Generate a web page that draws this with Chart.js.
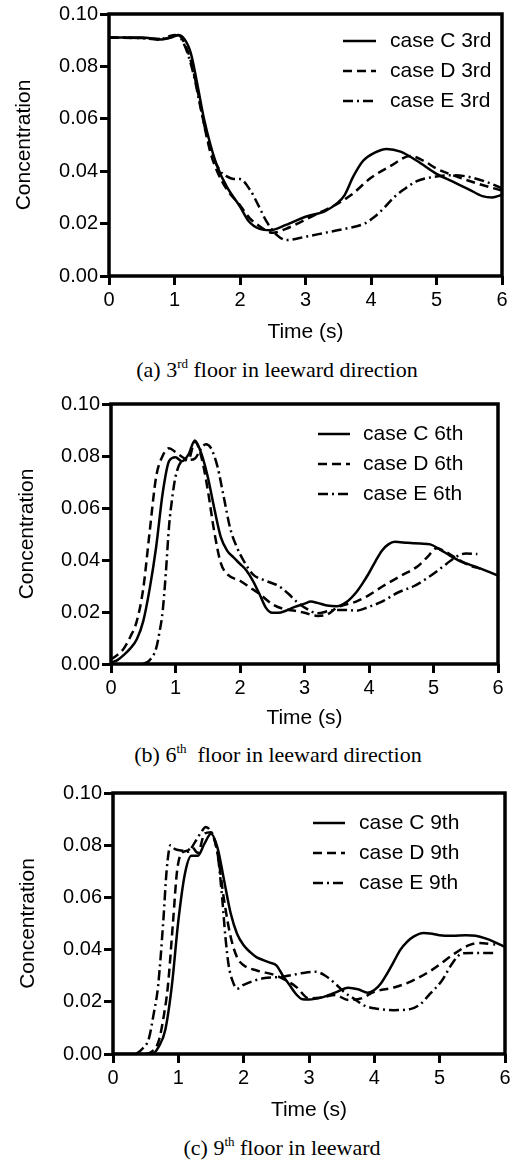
<!DOCTYPE html>
<html>
<head>
<meta charset="utf-8">
<script src="https://cdn.jsdelivr.net/npm/chart.js@4.4.1/dist/chart.umd.min.js"></script>
<style>
  body { margin: 0; background: #fff; }
  #page { position: relative; width: 515px; height: 1163px; overflow: hidden; }
  .box { position: absolute; left: 0; width: 515px; }
  .cap { position: absolute; font-family: "Liberation Serif", serif; font-size: 22px; line-height: 26px;
         white-space: nowrap; transform: translateX(-50%); color: #000; }
  .cap span { font-size: 13px; position: relative; top: -9px; }
</style>
</head>
<body>
<div id="page">
  <div class="box" style="top:0;height:346px"><canvas id="chart3rd"></canvas></div>
  <div class="cap" style="left:277px;top:357px">(a) 3<span>rd</span> floor in leeward direction</div>
  <div class="box" style="top:390px;height:342px"><canvas id="chart6th"></canvas></div>
  <div class="cap" style="left:278px;top:742px">(b) 6<span>th</span>&nbsp; floor in leeward direction</div>
  <div class="box" style="top:779px;height:345px"><canvas id="chart9th"></canvas></div>
  <div class="cap" style="left:282px;top:1135px">(c) 9<span>th</span> floor in leeward</div>
</div>
<script>
// Concentration vs time, cases C / D / E, 3rd / 6th / 9th floor

// 3rd floor
const t3C = [0, 0.5, 0.8, 1.0, 1.05, 1.15, 1.25, 1.35, 1.45, 1.55, 1.65, 1.8, 2.0, 2.13, 2.3, 2.46, 2.7, 3.0, 3.3, 3.48, 3.6, 3.73, 3.88, 4.05, 4.24, 4.45, 4.7, 5.0, 5.25, 5.5, 5.7, 5.85, 6.0];
const c3C = [0.091, 0.091, 0.0903, 0.0915, 0.092, 0.0905, 0.085, 0.073, 0.060, 0.050, 0.042, 0.034, 0.0265, 0.021, 0.018, 0.0175, 0.0195, 0.0226, 0.0248, 0.0277, 0.031, 0.038, 0.044, 0.047, 0.0485, 0.0475, 0.044, 0.039, 0.036, 0.033, 0.0305, 0.030, 0.031];
const t3D = [0, 0.5, 0.8, 1.0, 1.05, 1.15, 1.25, 1.35, 1.45, 1.55, 1.65, 1.8, 2.0, 2.15, 2.3, 2.5, 2.7, 3.0, 3.2, 3.45, 3.7, 4.0, 4.3, 4.6, 4.8, 5.0, 5.3, 5.6, 5.8, 6.0];
const c3D = [0.091, 0.0908, 0.0905, 0.0915, 0.092, 0.089, 0.082, 0.071, 0.058, 0.047, 0.040, 0.033, 0.027, 0.022, 0.019, 0.0165, 0.018, 0.0215, 0.024, 0.027, 0.031, 0.0375, 0.042, 0.0458, 0.044, 0.041, 0.038, 0.0355, 0.034, 0.0326];
const t3E = [0, 0.5, 0.75, 1.0, 1.1, 1.2, 1.3, 1.4, 1.5, 1.6, 1.7, 1.8, 1.9, 2.0, 2.15, 2.3, 2.4, 2.56, 2.71, 3.0, 3.3, 3.6, 3.9, 4.05, 4.2, 4.35, 4.5, 4.7, 4.95, 5.25, 5.5, 5.75, 6.0];
const c3E = [0.091, 0.0908, 0.0902, 0.092, 0.0905, 0.085, 0.076, 0.064, 0.053, 0.045, 0.040, 0.038, 0.037, 0.037, 0.033, 0.026, 0.021, 0.0157, 0.0137, 0.015, 0.0165, 0.018, 0.020, 0.0225, 0.026, 0.030, 0.033, 0.0362, 0.0378, 0.0385, 0.0378, 0.036, 0.0335];

// 6th floor
const t6C = [0, 0.1, 0.2, 0.3, 0.4, 0.5, 0.6, 0.7, 0.8, 0.9, 1.0, 1.1, 1.2, 1.3, 1.4, 1.5, 1.6, 1.7, 1.8, 1.9, 2.0, 2.1, 2.2, 2.3, 2.4, 2.5, 2.6, 2.7, 2.85, 3.0, 3.1, 3.2, 3.35, 3.5, 3.65, 3.8, 3.9, 4.0, 4.1, 4.2, 4.3, 4.4, 4.6, 4.8, 4.95, 5.1, 5.25, 5.4, 5.55, 5.7, 5.85, 6.0];
const c6C = [0.0005, 0.0015, 0.0035, 0.006, 0.0095, 0.0165, 0.029, 0.045, 0.0655, 0.078, 0.0795, 0.078, 0.0805, 0.086, 0.081, 0.072, 0.060, 0.049, 0.0436, 0.041, 0.0385, 0.036, 0.032, 0.027, 0.0217, 0.0197, 0.0197, 0.0204, 0.022, 0.0232, 0.024, 0.0235, 0.0225, 0.0222, 0.0238, 0.0275, 0.031, 0.035, 0.0395, 0.0436, 0.046, 0.047, 0.0466, 0.0463, 0.046, 0.044, 0.0418, 0.0397, 0.0383, 0.037, 0.0355, 0.034];
const t6D = [0, 0.1, 0.2, 0.3, 0.4, 0.5, 0.6, 0.7, 0.8, 0.9, 1.0, 1.1, 1.2, 1.3, 1.4, 1.5, 1.6, 1.7, 1.8, 2.0, 2.15, 2.3, 2.5, 2.7, 2.85, 3.0, 3.2, 3.35, 3.5, 3.8, 4.0, 4.2, 4.5, 4.75, 4.9, 5.05, 5.2, 5.4, 5.55, 5.75];
const c6D = [0.0017, 0.0035, 0.006, 0.0105, 0.0165, 0.029, 0.051, 0.072, 0.080, 0.083, 0.0815, 0.0797, 0.0785, 0.0855, 0.0797, 0.067, 0.051, 0.039, 0.0346, 0.032, 0.0295, 0.027, 0.023, 0.021, 0.0205, 0.0197, 0.0185, 0.019, 0.0217, 0.024, 0.0265, 0.0297, 0.034, 0.0375, 0.041, 0.0445, 0.043, 0.040, 0.038, 0.0365];
const t6E = [0.5, 0.6, 0.7, 0.75, 0.8, 0.85, 0.9, 0.95, 1.0, 1.1, 1.2, 1.3, 1.4, 1.47, 1.55, 1.65, 1.75, 1.85, 1.95, 2.05, 2.2, 2.4, 2.6, 2.75, 2.9, 3.05, 3.2, 3.4, 3.65, 3.8, 4.0, 4.2, 4.45, 4.7, 4.9, 5.07, 5.2, 5.37, 5.5, 5.68];
const c6E = [0, 0.0015, 0.006, 0.012, 0.020, 0.035, 0.053, 0.064, 0.072, 0.078, 0.0785, 0.079, 0.083, 0.0845, 0.083, 0.076, 0.064, 0.052, 0.045, 0.040, 0.0345, 0.032, 0.030, 0.027, 0.0235, 0.021, 0.0195, 0.0205, 0.0208, 0.0205, 0.022, 0.024, 0.0275, 0.030, 0.033, 0.036, 0.0385, 0.0415, 0.0425, 0.0423];

// 9th floor
const t9C = [0, 0.6, 0.7, 0.8, 0.9, 1.0, 1.1, 1.2, 1.3, 1.4, 1.5, 1.6, 1.7, 1.8, 1.9, 2.0, 2.1, 2.2, 2.3, 2.4, 2.5, 2.6, 2.7, 2.8, 2.9, 3.0, 3.2, 3.4, 3.6, 3.75, 3.9, 4.0, 4.1, 4.2, 4.3, 4.4, 4.5, 4.6, 4.75, 4.9, 5.0, 5.2, 5.4, 5.55, 5.7, 5.85, 6.0];
const c9C = [0, 0, 0.0028, 0.0092, 0.026, 0.051, 0.069, 0.076, 0.076, 0.0806, 0.0844, 0.079, 0.0666, 0.054, 0.046, 0.0417, 0.039, 0.037, 0.036, 0.035, 0.034, 0.030, 0.0265, 0.023, 0.021, 0.0209, 0.0217, 0.0235, 0.0254, 0.0248, 0.0235, 0.0245, 0.027, 0.031, 0.0355, 0.040, 0.043, 0.045, 0.0464, 0.046, 0.0455, 0.0453, 0.0455, 0.0453, 0.0443, 0.0428, 0.041];
const t9D = [0.5, 0.6, 0.7, 0.78, 0.84, 0.92, 0.98, 1.05, 1.15, 1.2, 1.3, 1.4, 1.5, 1.6, 1.7, 1.8, 1.9, 2.0, 2.2, 2.5, 2.8, 3.0, 3.2, 3.4, 3.6, 3.8, 4.0, 4.3, 4.58, 4.9, 5.2, 5.43, 5.6, 5.85];
const c9D = [0, 0.001, 0.005, 0.015, 0.026, 0.051, 0.070, 0.077, 0.078, 0.0795, 0.077, 0.0844, 0.085, 0.0768, 0.059, 0.045, 0.037, 0.034, 0.032, 0.030, 0.0258, 0.0213, 0.0217, 0.0226, 0.0207, 0.0213, 0.0238, 0.0255, 0.028, 0.0325, 0.038, 0.0415, 0.0425, 0.042];
const t9E = [0.35, 0.45, 0.55, 0.62, 0.69, 0.77, 0.82, 0.88, 0.95, 1.05, 1.15, 1.25, 1.35, 1.42, 1.5, 1.6, 1.67, 1.72, 1.77, 1.83, 1.9, 2.0, 2.3, 2.6, 2.9, 3.1, 3.25, 3.4, 3.55, 3.7, 3.85, 4.0, 4.3, 4.55, 4.7, 4.85, 5.03, 5.2, 5.34, 5.5, 5.85];
const c9E = [0, 0.002, 0.006, 0.015, 0.026, 0.051, 0.070, 0.080, 0.0785, 0.078, 0.0775, 0.081, 0.085, 0.087, 0.085, 0.0768, 0.060, 0.045, 0.034, 0.028, 0.025, 0.0265, 0.029, 0.0296, 0.031, 0.0315, 0.030, 0.027, 0.0235, 0.021, 0.0185, 0.0175, 0.0168, 0.0172, 0.019, 0.023, 0.028, 0.035, 0.0385, 0.0387, 0.0387];

const caseNames = ['case C', 'case D', 'case E'];
const xTicks = [0, 1, 2, 3, 4, 5, 6];
const yTicks = [0, 0.02, 0.04, 0.06, 0.08, 0.10];

const FONT = '"Liberation Sans", Arial, sans-serif';
const dashes = [[], [9, 5], [10, 4, 2, 4]];

function pts(t, c) {
    return t.map((x, i) => ({ x: x, y: c[i] }));
}

// frame round the plot and the legend inside it
const frameLegend = {
    id: 'frameLegend',
    afterDatasetsDraw(chart, args, opts) {
        const { ctx, chartArea: a } = chart;
        ctx.save();
        ctx.strokeStyle = '#000';
        ctx.lineWidth = 3.5;
        ctx.strokeRect(a.left, a.top, a.right - a.left, a.bottom - a.top);
        ctx.font = '21px ' + FONT;
        ctx.textBaseline = 'middle';
        ctx.fillStyle = '#000';
        chart.data.datasets.forEach((ds, i) => {
            const y = a.top + opts.top + i * 30;
            ctx.lineWidth = 2.5;
            ctx.setLineDash(ds.borderDash);
            ctx.beginPath();
            ctx.moveTo(a.right + opts.x0, y);
            ctx.lineTo(a.right + opts.x1, y);
            ctx.stroke();
            ctx.setLineDash([]);
            ctx.fillText(ds.label, a.right + opts.tx, y);
        });
        ctx.restore();
    }
};

function makeChart(id, floor, series, lay) {
    new Chart(document.getElementById(id), {
        type: 'line',
        data: {
            datasets: series.map((s, i) => ({
                label: caseNames[i] + ' ' + floor,
                data: pts(s[0], s[1]),
                borderColor: '#000',
                borderWidth: 2.5,
                borderDash: dashes[i],
                pointRadius: 0,
                fill: false,
                cubicInterpolationMode: 'monotone'
            }))
        },
        options: {
            responsive: true,
            maintainAspectRatio: false,
            animation: false,
            layout: { padding: { top: 14, right: lay.right, left: 0, bottom: 0 } },
            plugins: {
                legend: { display: false },
                tooltip: { enabled: false },
                frameLegend: lay.legend
            },
            scales: {
                x: {
                    type: 'linear', min: 0, max: 6,
                    afterFit: s => { s.height = lay.xh; },
                    afterBuildTicks: s => { s.ticks = xTicks.map(v => ({ value: v })); },
                    border: { display: false },
                    grid: { drawOnChartArea: false, tickLength: 9, tickWidth: 3, tickColor: '#000' },
                    ticks: { color: '#000', padding: 3, font: { family: FONT, size: 20 } },
                    title: { display: true, text: 'Time (s)', color: '#000', padding: { top: 0, bottom: 1.4 },
                             font: { family: FONT, size: 21 } }
                },
                y: {
                    type: 'linear', min: 0, max: 0.1,
                    afterFit: s => { s.width = lay.yw; },
                    afterBuildTicks: s => { s.ticks = yTicks.map(v => ({ value: v })); },
                    border: { display: false },
                    grid: { drawOnChartArea: false, tickLength: 9, tickWidth: 3, tickColor: '#000' },
                    ticks: { color: '#000', padding: 2, font: { family: FONT, size: 20 },
                             callback: v => v.toFixed(2) },
                    title: { display: true, text: 'Concentration', color: '#000', padding: { top: lay.yt, bottom: 0 },
                             font: { family: FONT, size: 21 } }
                }
            }
        },
        plugins: [frameLegend]
    });
}

makeChart('chart3rd', '3rd', [[t3C, c3C], [t3D, c3D], [t3E, c3E]],
    { right: 13, xh: 70, yw: 109, yt: 11.4, legend: { top: 27, x0: -159, x1: -126, tx: -112 } });
makeChart('chart6th', '6th', [[t6C, c6C], [t6D, c6D], [t6E, c6E]],
    { right: 17, xh: 68, yw: 111, yt: 14.4, legend: { top: 30, x0: -180, x1: -148, tx: -135 } });
makeChart('chart9th', '9th', [[t9C, c9C], [t9D, c9D], [t9E, c9E]],
    { right: 10, xh: 70, yw: 113, yt: 15.4, legend: { top: 30, x0: -192, x1: -160, tx: -146 } });
</script>
</body>
</html>
